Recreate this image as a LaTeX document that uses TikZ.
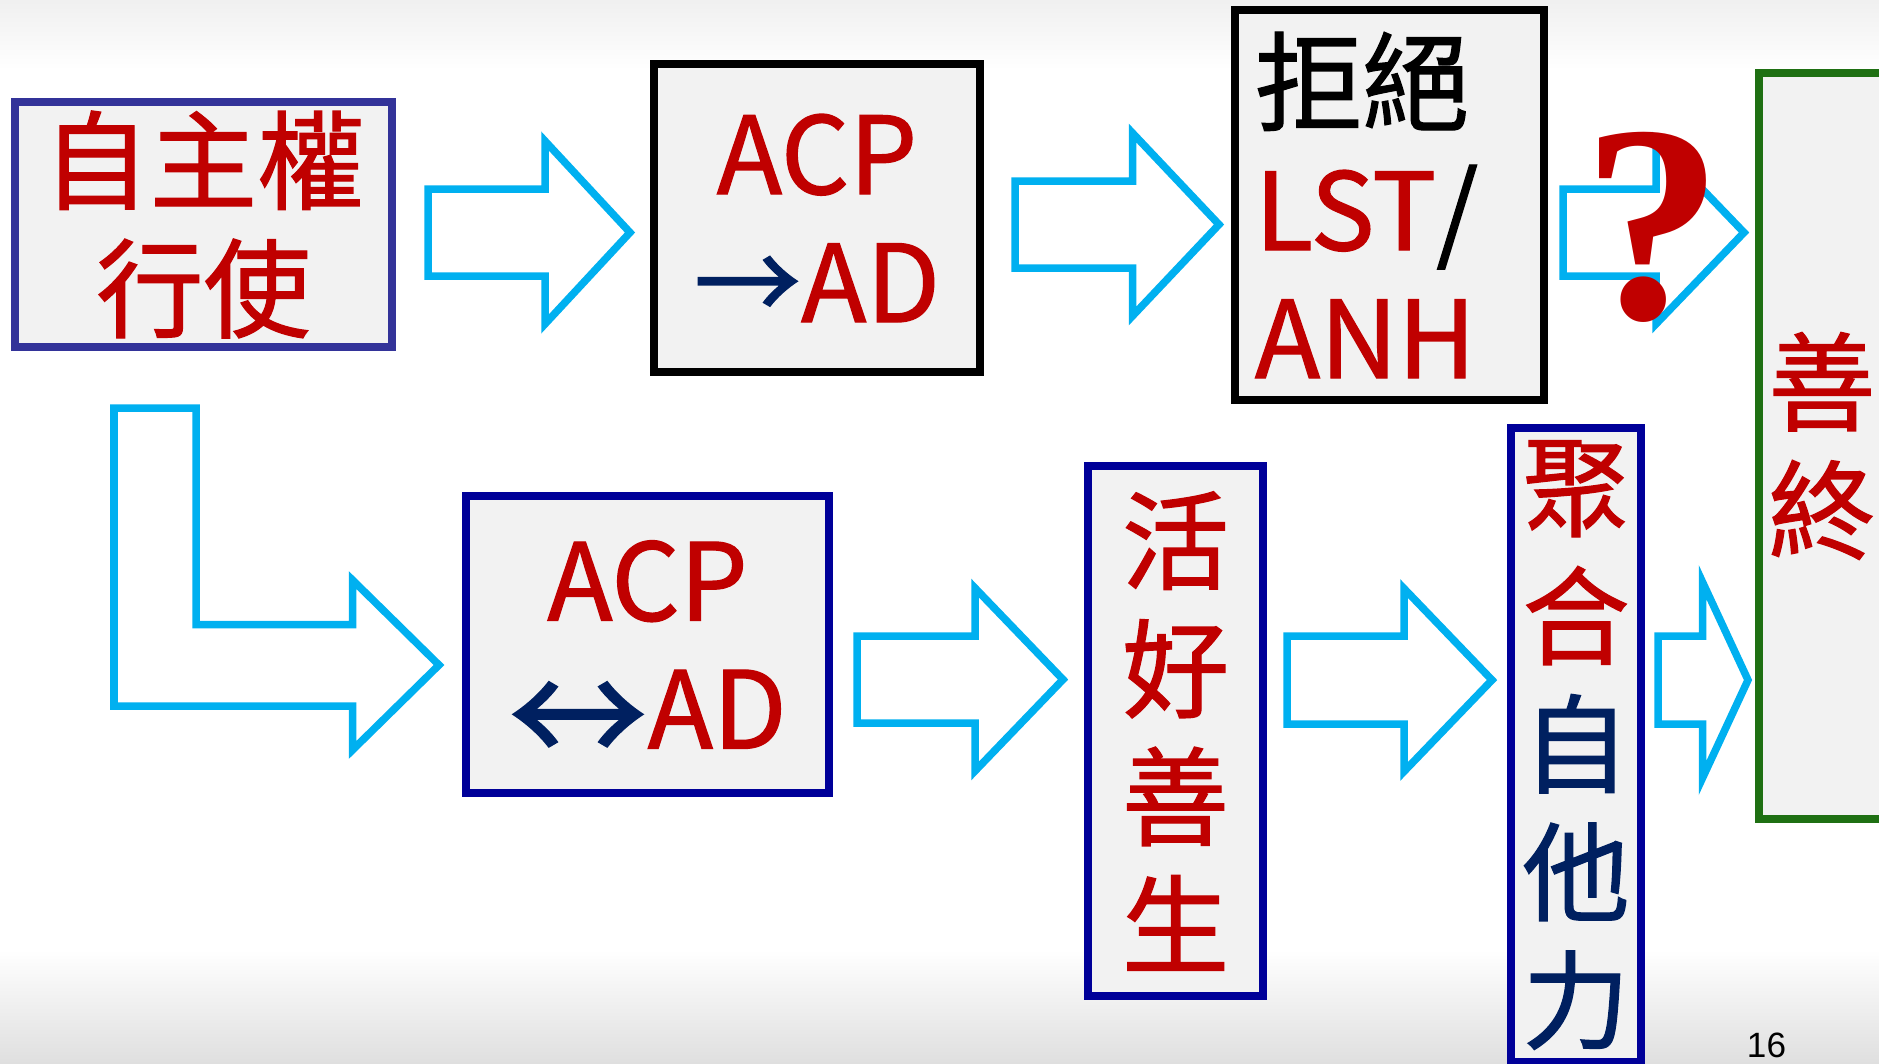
\documentclass[tikz,border=0pt]{standalone}
\usepackage{fontspec}
\setmainfont{Noto Sans CJK TC}[FakeBold=1.2]
\newfontfamily\qmarkfont{Liberation Serif}
\newfontfamily\pagefont{Liberation Sans}

\definecolor{boxred}{HTML}{C00000}
\definecolor{boxnavy}{HTML}{002060}
\definecolor{arrowcyan}{HTML}{00B0F0}
\definecolor{lineblue}{HTML}{000099}
\definecolor{linepurple}{HTML}{333399}
\definecolor{linegreen}{RGB}{31,112,19}
\definecolor{boxfill}{HTML}{F2F2F2}

\tikzset{
  box/.style={draw,fill=boxfill,line width=0.08cm,inner sep=0,align=center,
    text=boxred,font=\fontsize{30.5}{36.4}\selectfont},
  bigarrow/.style={draw=arrowcyan,line width=0.075cm},
}

% block arrow: start x, head base x, tip x, mid y, half shaft, half head
\newcommand{\blockarrow}[6]{%
  \draw[bigarrow] (#1,{#4-#5}) -- (#2,{#4-#5}) -- (#2,{#4-#6}) -- (#3,#4)
    -- (#2,{#4+#6}) -- (#2,{#4+#5}) -- (#1,{#4+#5}) -- cycle;}

\begin{document}
\begin{tikzpicture}[x=0.01cm,y=-0.01cm]
  \useasboundingbox (0,0) rectangle (1879,1063);
  \fill[white] (0,0) rectangle (1879,1063);
  \fill[top color=gray!12,bottom color=white] (0,0) rectangle (1879,70);
  \fill[top color=white,bottom color=gray!25] (0,950) rectangle (1879,1063);

  % upper row
  \node (auto) at (203.5,224.5) [box,draw=linepurple,minimum width=3.77cm,minimum height=2.45cm]{自主權\\行使};
  \node (acpone) at (817,218) [box,draw=black,minimum width=3.26cm,minimum height=3.075cm]{ACP\\{\color{boxnavy}→}AD};
  \node (refuse) at (1389.5,205) [box,draw=black,minimum width=3.09cm,minimum height=3.9cm,
    align=left,text width=2.69cm,inner xsep=0.2cm]{{\color{black}拒絕}\\LST{\color{black}/}\\ANH};
  \node (goodend) at (1822,446) [box,draw=linegreen,minimum width=1.26cm,minimum height=7.46cm]{善\\終};

  % lower row
  \node (acptwo) at (647.5,644.5) [box,draw=lineblue,minimum width=3.62cm,minimum height=2.97cm]{ACP\\{\color{boxnavy}\raisebox{-0.17em}[0pt][0pt]{\scalebox{1.3}{↔}}}AD};
  \node (livewell) at (1175.5,731) [box,draw=lineblue,minimum width=1.75cm,minimum height=5.295cm]{活\\好\\善\\生};
  \node (gather) at (1576,745) [box,draw=lineblue,minimum width=1.295cm,minimum height=6.33cm]{聚\\合\\{\color{boxnavy}自}\\{\color{boxnavy}他}\\{\color{boxnavy}力}};

  % block arrows
  \blockarrow{428}{545}{630}{232.5}{43.5}{91.5}
  \blockarrow{1015}{1132.5}{1219}{224.5}{43.5}{91.5}
  \blockarrow{1563}{1656}{1744}{232.5}{43.5}{91.5}
  \blockarrow{857}{975}{1063}{679.5}{43.5}{91.5}
  \blockarrow{1287}{1404}{1492}{680}{44}{91.5}
  \blockarrow{1658}{1702.5}{1748}{680}{44}{98}
  \draw[bigarrow] (114,408) -- (196,408) -- (196,624.5) -- (352.5,624.5) -- (352.5,580)
    -- (439,665) -- (352.5,750) -- (352.5,706) -- (114,706) -- cycle;

  \node (qm) at (1653,318) [anchor=base,inner sep=0,text=boxred,font=\qmarkfont\bfseries\fontsize{80}{80}\selectfont]{?};
  \node (page) at (1766.5,1057) [anchor=base,inner sep=0,font=\pagefont\fontsize{10}{12}\selectfont]{16};
\end{tikzpicture}
\end{document}
